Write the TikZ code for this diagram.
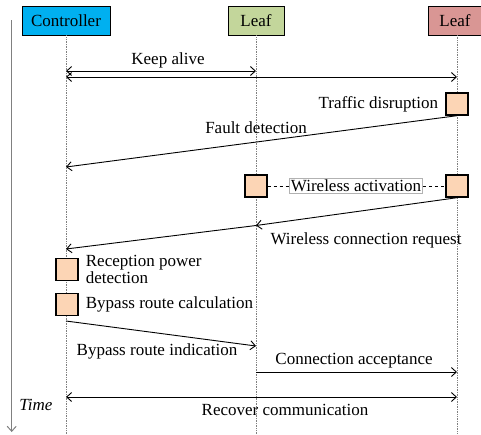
\documentclass[tikz,border=0pt]{standalone}
\usepackage{fontspec}
\setmainfont{Liberation Serif}
\usetikzlibrary{arrows.meta, positioning, calc}

\definecolor{ctrlblue}{RGB}{0,176,240}
\definecolor{leafgreen}{RGB}{195,214,155}
\definecolor{leafpink}{RGB}{217,150,148}
\definecolor{procpeach}{RGB}{252,213,181}

\tikzset{
    head/.style={draw=black, line width=0.9pt, minimum height=29pt, inner sep=2pt},
    proc/.style={draw=black, fill=procpeach, line width=1.4pt, minimum size=22pt, inner sep=0pt},
    life/.style={gray, densely dotted, line width=0.7pt},
    msg/.style={line width=0.9pt, -{Straight Barb[length=5pt, width=9pt]}},
    bimsg/.style={line width=0.9pt, {Straight Barb[length=5pt, width=9pt]}-{Straight Barb[length=5pt, width=9pt]}},
    lbl/.style={inner sep=1pt}
}

\begin{document}
\begin{tikzpicture}[x=1pt, y=-1pt, font=\fontsize{17}{19}\selectfont]
        \useasboundingbox (0, 0) rectangle (481, 434);
        % header boxes
        \node[head, fill=ctrlblue, minimum width=88pt] (ctrl) at (66, 20.5) {Controller};
        \node[head, fill=leafgreen, minimum width=56pt] (leafA) at (256, 20.5) {Leaf};
        \node[head, fill=leafpink, minimum width=54pt] (leafB) at (455, 20.5) {Leaf};
        % lifelines
        \coordinate (ctrlend) at (66, 434);
        \coordinate (leafAend) at (256, 434);
        \coordinate (leafBtop) at (457, 35);
        \coordinate (leafBend) at (457, 434);
        \draw[life] (ctrl.south) -- (ctrlend);
        \draw[life] (leafA.south) -- (leafAend);
        \draw[life] (leafBtop) -- (leafBend);
        % time axis
        \coordinate (tstart) at (11.7, 20);
        \coordinate (tend) at (11.7, 432);
        \draw[gray, line width=1pt, -{Straight Barb[length=5pt, width=9pt]}] (tstart) -- (tend);
        \node[font=\fontsize{17}{19}\selectfont\itshape] (time) at (36, 405) {Time};

        % keep alive
        \coordinate (ka1) at (66, 71);
        \coordinate (ka2) at (256, 71);
        \coordinate (ka3) at (66, 77);
        \coordinate (ka4) at (457, 77);
        \draw[bimsg] (ka1) -- (ka2);
        \draw[bimsg] (ka3) -- (ka4);
        \node[lbl] (keep) at (168, 60) {Keep alive};

        % traffic disruption
        \node[proc] (disr) at (457, 104) {};
        \node[lbl, left=6pt of disr] (disrtxt) {Traffic disruption};
        \coordinate (fd2) at (66, 167);
        \draw[msg] (disr.south) -- (fd2);
        \node[lbl] (fault) at (256, 128) {Fault detection};

        % wireless activation
        \node[proc] (wactA) at (256, 186) {};
        \node[proc] (wactB) at (457, 186) {};
        \node[draw=gray!60, line width=0.5pt, fill=white, inner sep=1.5pt] (wact) at (356, 186) {Wireless activation};
        \draw[dashed, line width=0.9pt] (wactA) -- (wact);
        \draw[dashed, line width=0.9pt] (wact) -- (wactB);

        % wireless connection request
        \coordinate (wcr1) at (256, 225.5);
        \coordinate (wcr2) at (66, 249);
        \draw[msg] (wactB.south) -- (wcr1);
        \draw[msg] (wcr1) -- (wcr2);
        \node[lbl] (wcr) at (366, 240) {Wireless connection request};

        % controller processing
        \node[proc] (recp) at (67, 269.5) {};
        \node[lbl, right=6pt of recp, align=left, font=\fontsize{17}{17}\selectfont] (recptxt) {Reception power\\detection};
        \node[proc] (calc) at (67, 304.5) {};
        \node[lbl, right=6pt of calc] (calctxt) {Bypass route calculation};

        % bypass route indication
        \coordinate (bri1) at (66, 321);
        \coordinate (bri2) at (256, 346);
        \draw[msg] (bri1) -- (bri2);
        \node[lbl] (bri) at (157, 351) {Bypass route indication};

        % connection acceptance
        \coordinate (ca1) at (256, 372);
        \coordinate (ca2) at (457, 372);
        \draw[msg] (ca1) -- (ca2);
        \node[lbl] (ca) at (354, 361) {Connection acceptance};

        % recover communication
        \coordinate (rc1) at (66, 397);
        \coordinate (rc2) at (457, 397);
        \draw[bimsg] (rc1) -- (rc2);
        \node[lbl] (rc) at (285, 410) {Recover communication};
    \end{tikzpicture}
\end{document}
